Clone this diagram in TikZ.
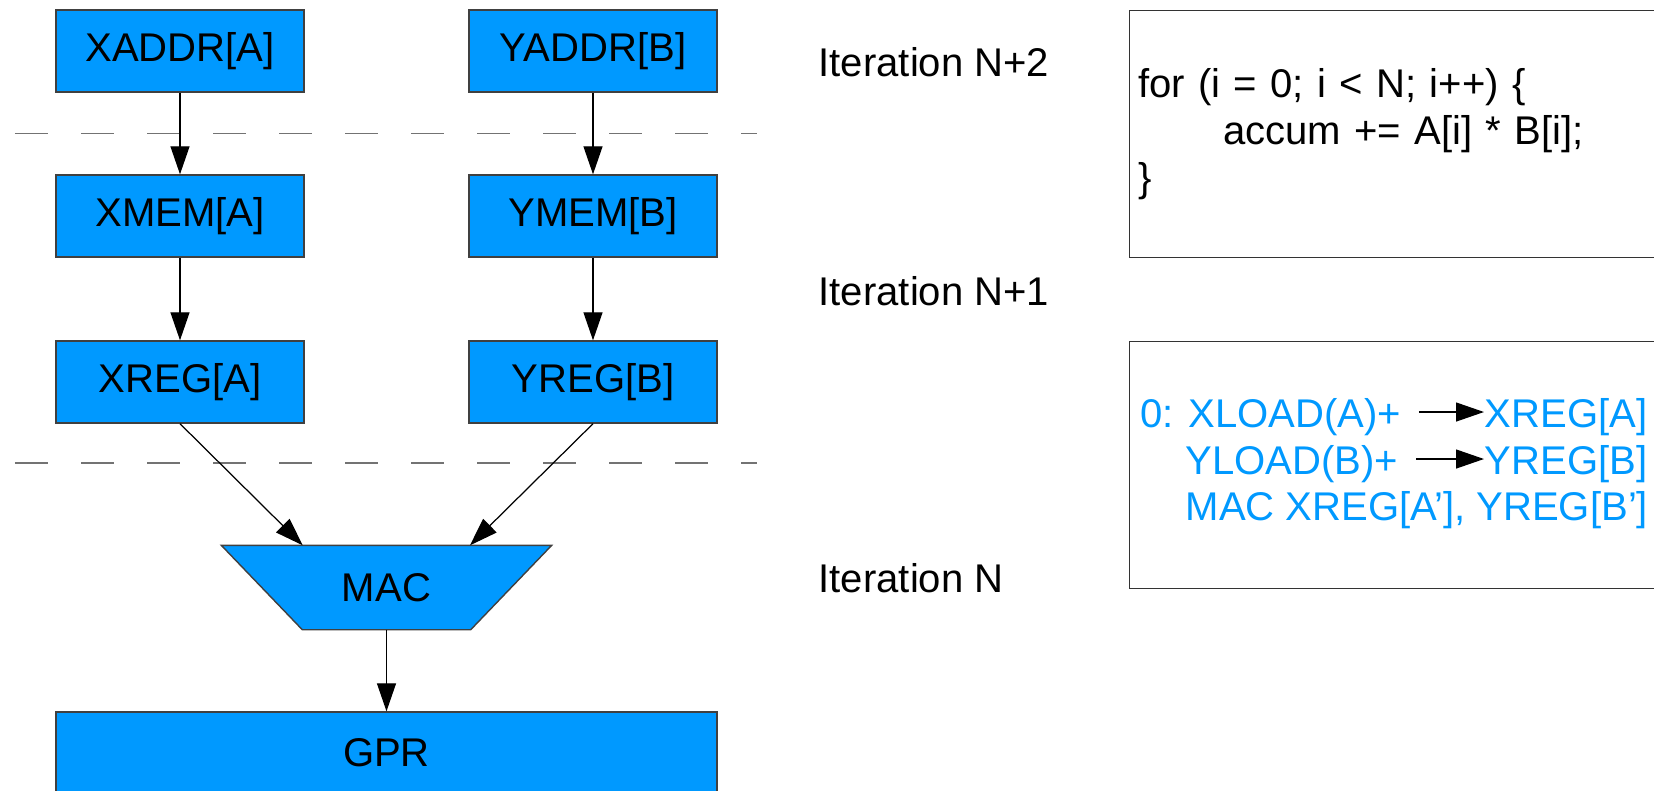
\documentclass[tikz,border=0pt]{standalone}
\usepackage{fontspec}
\setmainfont{Liberation Sans}
\usetikzlibrary{arrows.meta}
\definecolor{unitblue}{HTML}{0099FF}

\begin{document}
\begin{tikzpicture}[auto, font=\fontsize{11.4}{13.4}\selectfont,
   unit/.style ={rectangle, draw=black!75, fill=unitblue, inner sep=0pt, minimum width=2.48cm, minimum height=0.82cm},
   frame/.style ={rectangle, inner sep=0pt, minimum width=3.29cm, minimum height=0.83cm},
   flow/.style ={-{Triangle[length=0.28cm,width=0.19cm]}, line width=0.35pt},
   stage/.style ={anchor=base west, inner sep=0pt},
   listing/.style ={rectangle, draw=black!80, anchor=north west, minimum height=2.47cm, inner xsep=0.085cm, align=left},
   op/.style ={anchor=base west, inner sep=0pt, text=unitblue, text height=0.30cm, text depth=0cm}]
   \useasboundingbox (0,0) rectangle (16.54,-7.90);

   \node[unit] (XA) at (1.80,-0.51) {XADDR[A]};
   \node[unit] (YA) at (5.93,-0.51) {YADDR[B]};
   \node[unit] (XM) at (1.80,-2.16) {XMEM[A]};
   \node[unit] (YM) at (5.93,-2.16) {YMEM[B]};
   \node[unit] (XR) at (1.80,-3.82) {XREG[A]};
   \node[unit] (YR) at (5.93,-3.82) {YREG[B]};
   \node[frame] (M) at (3.865,-5.875) {};
   \filldraw[draw=black!75, fill=unitblue] (M.north west) -- (M.north east)
      -- ([xshift=-0.81cm]M.south east) -- ([xshift=0.81cm]M.south west) -- cycle;
   \node (MAC) at (M) {MAC};
   \node[unit, minimum width=6.61cm] (G) at (3.865,-7.53) {GPR};

   \foreach \y in {-1.333,-4.63}
      \draw[black!55, dash pattern=on 0.33cm off 0.33cm] (0.15,\y) -- (7.57,\y);

   \draw[flow] (XA) to (XM);
   \draw[flow] (YA) to (YM);
   \draw[flow] (XM) to (XR);
   \draw[flow] (YM) to (YR);
   \draw[flow] (XR.south) to ([xshift=-0.838cm]M.north);
   \draw[flow] (YR.south) to ([xshift=0.835cm]M.north);
   \draw[flow] (M) to (G);

   \node[stage] (S2) at (8.18,-0.767) {Iteration N+2};
   \node[stage] (S1) at (8.18,-3.05) {Iteration N+1};
   \node[stage] (S0) at (8.18,-5.92) {Iteration N};

   \node[listing, text width=6cm] (loop) at (11.29,-0.10)
      {for (i = 0; i < N; i++) \{\\\hspace*{0.85cm}accum += A[i] * B[i];\\\}};

   \node[listing, minimum width=6.5cm] (prog) at (11.29,-3.41) {};
   \node[op] (XL) at (11.395,-4.27) {0: XLOAD(A)+};
   \node[op] (XD) at (14.84,-4.27) {XREG[A]};
   \node[op] (YL) at (11.85,-4.74) {YLOAD(B)+};
   \node[op] (YD) at (14.84,-4.74) {YREG[B]};
   \node[op] (MO) at (11.85,-5.20) {MAC XREG[A’], YREG[B’]};

   \draw[flow] ([xshift=0.17cm]XL.east) to (XD.west);
   \draw[flow] ([xshift=0.17cm]YL.east) to (YD.west);
 \end{tikzpicture}
\end{document}
